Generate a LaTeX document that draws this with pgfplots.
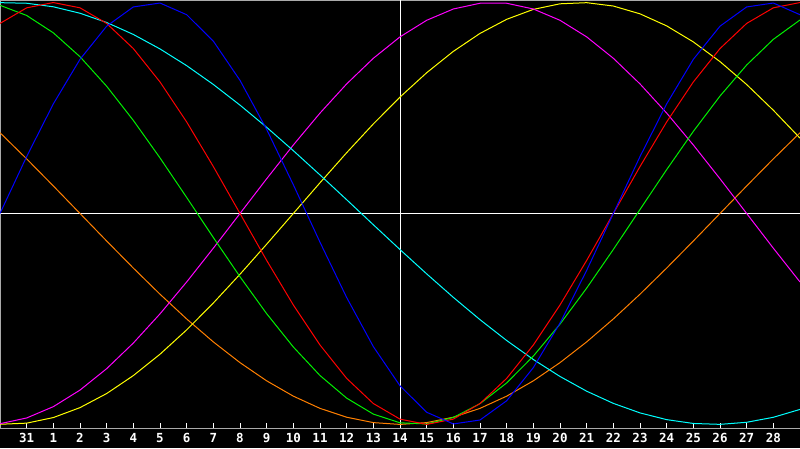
\documentclass[border=0pt]{standalone}
\usepackage{pgfplots}
\pgfplotsset{compat=1.18}
\usepackage{fontspec}
\setmonofont{DejaVu Sans Mono}

\definecolor{frame}{RGB}{170,170,170}
\definecolor{cblue}{RGB}{0,0,255}
\definecolor{cred}{RGB}{255,0,0}
\definecolor{cgreen}{RGB}{0,240,0}
\definecolor{ccyan}{RGB}{0,255,255}
\definecolor{cmagenta}{RGB}{255,0,255}
\definecolor{cyellow}{RGB}{255,255,0}
\definecolor{corange}{RGB}{255,128,0}

% day index: -1 = 30th, 0 = 31st, 1..29 = days of the month
\pgfplotstableread{
i   blue    red     green   magenta yellow  orange  cyan
-1  0.0000  0.9010  0.9869  -0.9966 -0.9993 0.3827  0.9994
0   0.2698  0.9749  0.9387  -0.9694 -0.9940 0.2588  0.9966
1   0.5196  1.0000  0.8564  -0.9158 -0.9675 0.1305  0.9798
2   0.7308  0.9749  0.7431  -0.8372 -0.9204 0.0000  0.9492
3   0.8879  0.9010  0.6031  -0.7357 -0.8536 -0.1305 0.9054
4   0.9791  0.7818  0.4412  -0.6142 -0.7685 -0.2588 0.8487
5   0.9977  0.6235  0.2634  -0.4759 -0.6672 -0.3827 0.7801
6   0.9423  0.4339  0.0760  -0.3247 -0.5518 -0.5000 0.7008
7   0.8170  0.2225  -0.1140 -0.1646 -0.4245 -0.6088 0.6116
8   0.6311  0.0000  -0.2999 0.0000  -0.2881 -0.7071 0.5137
9   0.3984  -0.2225 -0.4751 0.1646  -0.1456 -0.7934 0.4085
10  0.1362  -0.4339 -0.6330 0.3247  0.0000  -0.8660 0.2977
11  -0.1362 -0.6235 -0.7682 0.4759  0.1456  -0.9239 0.1827
12  -0.3984 -0.7818 -0.8754 0.6142  0.2881  -0.9659 0.0652
13  -0.6311 -0.9010 -0.9511 0.7357  0.4245  -0.9914 -0.0534
14  -0.8170 -0.9749 -0.9924 0.8372  0.5518  -1.0000 -0.1711
15  -0.9423 -1.0000 -0.9978 0.9158  0.6672  -0.9914 -0.2863
16  -0.9977 -0.9749 -0.9671 0.9694  0.7685  -0.9659 -0.3977
17  -0.9791 -0.9010 -0.9016 0.9966  0.8536  -0.9239 -0.5034
18  -0.8879 -0.7818 -0.8033 0.9966  0.9204  -0.8660 -0.6022
19  -0.7308 -0.6235 -0.6760 0.9694  0.9675  -0.7934 -0.6922
20  -0.5196 -0.4339 -0.5246 0.9158  0.9940  -0.7071 -0.7727
21  -0.2698 -0.2225 -0.3539 0.8372  0.9993  -0.6088 -0.8425
22  0.0000  0.0000  -0.1706 0.7357  0.9834  -0.5000 -0.9002
23  0.2698  0.2225  0.0190  0.6142  0.9464  -0.3827 -0.9454
24  0.5196  0.4339  0.2079  0.4759  0.8893  -0.2588 -0.9773
25  0.7308  0.6235  0.3893  0.3247  0.8133  -0.1305 -0.9955
26  0.8879  0.7818  0.5567  0.1646  0.7199  0.0000  -0.9997
27  0.9791  0.9010  0.7039  0.0000  0.6113  0.1305  -0.9899
28  0.9977  0.9749  0.8255  -0.1646 0.4894  0.2588  -0.9662
29  0.9423  1.0000  0.9174  -0.3247 0.3572  0.3827  -0.9289
}\rhythms

\begin{document}
\begin{tikzpicture}[x=1pt,y=1pt]
\fill[black, use as bounding box] (0,0) rectangle (800,448);
\begin{axis}[
    at={(0pt,20pt)}, anchor=south west,
    scale only axis,
    width=800pt, height=428pt,
    xmin=-1, xmax=29,
    ymin=-1.017, ymax=1.012,
    axis line style={frame, line width=1pt},
    xtick={0,...,28},
    xticklabels={31,1,2,3,4,5,6,7,8,9,10,11,12,13,14,15,16,17,18,19,20,21,22,23,24,25,26,27,28},
    ytick=\empty,
    xtick pos=bottom,
    tick align=inside,
    major tick length=5pt,
    tick style={white, line width=1pt},
    xticklabel style={text=white, font=\ttfamily\bfseries\fontsize{12.5}{13}\selectfont, inner sep=0pt, yshift=-5pt},
    every axis plot/.append style={line width=1pt, mark=none},
]
% zero line and "today" marker
\draw[white, line width=1pt] (axis cs:-1,0) -- (axis cs:29,0);
\draw[white, line width=1pt] (axis cs:14,-1.017) -- (axis cs:14,1.012);

\addplot[corange]  table[x=i, y=orange]  {\rhythms};
\addplot[cyellow]  table[x=i, y=yellow]  {\rhythms};
\addplot[cmagenta] table[x=i, y=magenta] {\rhythms};
\addplot[ccyan]    table[x=i, y=cyan]    {\rhythms};
\addplot[cgreen]   table[x=i, y=green]   {\rhythms};
\addplot[cred]     table[x=i, y=red]     {\rhythms};
\addplot[cblue]    table[x=i, y=blue]    {\rhythms};
\end{axis}
\end{tikzpicture}
\end{document}
